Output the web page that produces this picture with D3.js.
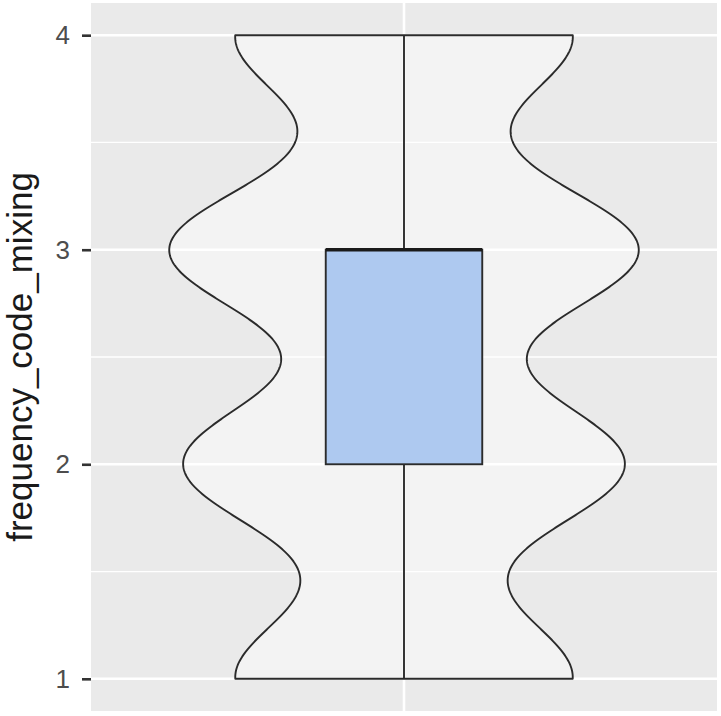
<!DOCTYPE html>
<html>
  <head>
    <meta http-equiv="Content-Type" content="text/html;charset=utf-8">
    <title>frequency_code_mixing violin</title>
    <script src="https://d3js.org/d3.v7.min.js"></script>
    <style>
      html, body {
        margin: 0;
        padding: 0;
        background: #fff;
      }
      svg { display: block; font-family: "Liberation Sans", Arial, sans-serif; }
    </style>
  </head>
  <body>
<script type="text/javascript">

// responses (1-4 scale) and how many answered each
var levels = [1, 2, 3, 4];
var counts = [36, 47, 50, 36];
var yTicks = [1, 2, 3, 4];
var yMinor = [1.5, 2.5, 3.5];
var yTitle = "frequency_code_mixing";
var bandwidth = 0.31;

var W = 721, H = 716;
var panel = {left: 91, right: 717, top: 3, bottom: 711};

var svg = d3.select("body").append("svg")
  .attr("width", W)
  .attr("height", H);

// expanded observations -> box stats
var obs = [];
levels.forEach(function(v, i) { for (var k = 0; k < counts[i]; k++) obs.push(v); });
var q1 = d3.quantile(obs, 0.25), med = d3.quantile(obs, 0.5), q3 = d3.quantile(obs, 0.75);
var lo = d3.min(obs), hi = d3.max(obs);

// discrete x (one group at 1), ggplot expansion 0.6
var x = d3.scaleLinear().domain([0.4, 1.6]).range([panel.left, panel.right]);
var pad = (hi - lo) * 0.05;
var y = d3.scaleLinear().domain([lo - pad, hi + pad]).range([panel.bottom, panel.top]);

// gaussian kde, trimmed to data range
function gauss(u) { return Math.exp(-0.5 * u * u) / Math.sqrt(2 * Math.PI); }
var grid = d3.range(512).map(function(i) { return lo + (hi - lo) * i / 511; });
var dens = grid.map(function(g) {
  var s = 0;
  levels.forEach(function(v, i) { s += counts[i] * gauss((g - v) / bandwidth); });
  return {v: g, d: s / (obs.length * bandwidth)};
});
var halfW = d3.scaleLinear().domain([0, d3.max(dens, function(d) { return d.d; })]).range([0, 0.45]);

// panel
svg.append("rect")
  .attr("x", panel.left).attr("y", panel.top)
  .attr("width", panel.right - panel.left).attr("height", panel.bottom - panel.top)
  .attr("fill", "#EAEAEA");

svg.selectAll(".minor").data(yMinor).enter().append("line")
  .attr("x1", panel.left).attr("x2", panel.right)
  .attr("y1", function(d) { return y(d); }).attr("y2", function(d) { return y(d); })
  .attr("stroke", "#fff").attr("stroke-width", 1.3);

svg.selectAll(".major").data(yTicks).enter().append("line")
  .attr("x1", panel.left).attr("x2", panel.right)
  .attr("y1", function(d) { return y(d); }).attr("y2", function(d) { return y(d); })
  .attr("stroke", "#fff").attr("stroke-width", 2.6);

svg.append("line")
  .attr("x1", x(1)).attr("x2", x(1))
  .attr("y1", panel.top).attr("y2", panel.bottom)
  .attr("stroke", "#fff").attr("stroke-width", 2.6);

// violin
var right = dens.map(function(d) { return [x(1 + halfW(d.d)), y(d.v)]; });
var left = dens.slice().reverse().map(function(d) { return [x(1 - halfW(d.d)), y(d.v)]; });
svg.append("path")
  .attr("d", d3.line()(right.concat(left)) + "Z")
  .attr("fill", "#fff").attr("fill-opacity", 0.45)
  .attr("stroke", "#2b2b2b").attr("stroke-width", 1.9)
  .attr("stroke-linejoin", "round");

// boxplot (width 0.3)
var bw = 0.15;
svg.append("line")
  .attr("x1", x(1)).attr("x2", x(1))
  .attr("y1", y(hi)).attr("y2", y(q3))
  .attr("stroke", "#2b2b2b").attr("stroke-width", 1.9);
svg.append("line")
  .attr("x1", x(1)).attr("x2", x(1))
  .attr("y1", y(q1)).attr("y2", y(lo))
  .attr("stroke", "#2b2b2b").attr("stroke-width", 1.9);
svg.append("rect")
  .attr("x", x(1 - bw)).attr("y", y(q3))
  .attr("width", x(1 + bw) - x(1 - bw)).attr("height", y(q1) - y(q3))
  .attr("fill", "#AEC9F0")
  .attr("stroke", "#2b2b2b").attr("stroke-width", 1.9);
svg.append("line")
  .attr("x1", x(1 - bw)).attr("x2", x(1 + bw))
  .attr("y1", y(med)).attr("y2", y(med))
  .attr("stroke", "#1a1a1a").attr("stroke-width", 3.6);

// y axis
var yAxis = svg.append("g")
  .attr("transform", "translate(" + panel.left + ",0)")
  .call(d3.axisLeft(y).tickValues(yTicks).tickFormat(d3.format("d")).tickSizeInner(9).tickSizeOuter(0).tickPadding(12));
yAxis.select(".domain").remove();
yAxis.selectAll(".tick line").attr("stroke", "#333").attr("stroke-width", 2.6);
yAxis.selectAll(".tick text")
  .attr("fill", "#4D4D4D")
  .style("font-size", "26px");

svg.append("text")
  .attr("transform", "translate(32," + ((panel.top + panel.bottom) / 2) + ") rotate(-90)")
  .attr("text-anchor", "middle")
  .attr("fill", "#1a1a1a")
  .style("font-size", "35px")
  .text(yTitle);

</script>
  </body>
</html>
